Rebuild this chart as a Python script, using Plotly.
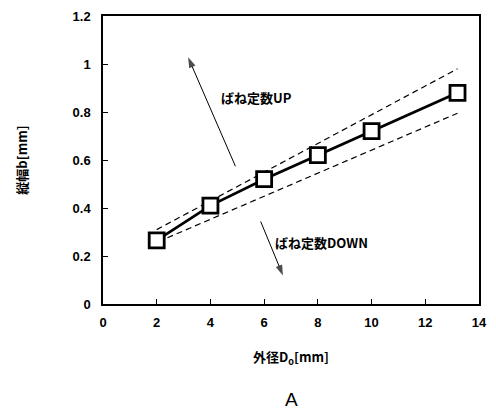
import plotly.graph_objects as go

# Measured outer diameter vs. width
outer_diameter = [2, 4, 6, 8, 10, 13.2]
width_b = [0.265, 0.41, 0.52, 0.62, 0.72, 0.88]

# Dashed guide lines (upper / lower bounds)
upper_x = [2.0, 13.2]
upper_y = [0.31, 0.98]
lower_x = [2.4, 13.2]
lower_y = [0.276, 0.795]

# Direction arrows: tail point then tip point
arrow_up_x = [4.93, 3.17]
arrow_up_y = [0.574, 1.028]
arrow_down_x = [5.87, 6.70]
arrow_down_y = [0.344, 0.119]

label_up = "ばね定数UP"
label_down = "ばね定数DOWN"
x_ticks = [0, 2, 4, 6, 8, 10, 12, 14]
y_ticks = [0, 0.2, 0.4, 0.6, 0.8, 1, 1.2]

jp_font = "Noto Sans CJK JP"
num_font = "Liberation Sans, Arial"

fig = go.Figure()

for xs, ys in ((upper_x, upper_y), (lower_x, lower_y)):
    fig.add_trace(go.Scatter(
        x=xs, y=ys, mode="lines",
        line=dict(color="black", width=1.2, dash="6px,4px"),
        showlegend=False, hoverinfo="skip"))

fig.add_trace(go.Scatter(
    x=outer_diameter, y=width_b, mode="lines+markers",
    line=dict(color="black", width=2.8),
    marker=dict(symbol="square", size=15, color="white",
                line=dict(color="black", width=2.8)),
    showlegend=False))

# Arrows: a thin line with an arrow-head marker oriented along the segment
for xs, ys in ((arrow_up_x, arrow_up_y), (arrow_down_x, arrow_down_y)):
    fig.add_trace(go.Scatter(
        x=xs, y=ys, mode="lines+markers",
        line=dict(color="black", width=1),
        marker=dict(symbol=["circle", "arrow"], size=[0, 11],
                    angleref="previous", color="black",
                    standoff=[0, 0], line=dict(width=0)),
        showlegend=False, hoverinfo="skip"))

fig.add_annotation(x=4.31, y=0.86, text=label_up, showarrow=False,
                   xanchor="left", yanchor="middle",
                   font=dict(family=jp_font, size=13, color="black",
                             weight="bold"))
fig.add_annotation(x=6.33, y=0.255, text=label_down, showarrow=False,
                   xanchor="left", yanchor="middle",
                   font=dict(family=jp_font, size=13, color="black",
                             weight="bold"))

fig.add_annotation(x=0.5, y=-0.33, xref="paper", yref="paper", text="A",
                   showarrow=False, yanchor="middle",
                   font=dict(family=num_font, size=19, color="black"))

fig.update_xaxes(
    range=[0, 14], tickvals=x_ticks, ticks="inside", ticklen=5,
    tickwidth=1, tickcolor="black", showline=True, linecolor="black",
    linewidth=1.5, mirror=True, showgrid=False, zeroline=False,
    ticklabelstandoff=6,
    tickfont=dict(family=num_font, size=13, color="black", weight="bold"),
    title=dict(text="外径D<sub>o</sub>[mm]", standoff=24,
               font=dict(family=jp_font, size=13, color="black",
                         weight="bold")))
fig.update_yaxes(
    range=[0, 1.2], tickvals=y_ticks, ticks="inside", ticklen=5,
    tickwidth=1, tickcolor="black", showline=True, linecolor="black",
    linewidth=1.5, mirror=True, showgrid=False, zeroline=False,
    ticklabelstandoff=8,
    tickfont=dict(family=num_font, size=13, color="black", weight="bold"),
    title=dict(text="縦幅b[mm]", standoff=42,
               font=dict(family=jp_font, size=13, color="black",
                         weight="bold")))

fig.update_layout(
    width=496, height=416,
    margin=dict(l=103, r=9, t=11, b=112),
    paper_bgcolor="white", plot_bgcolor="white")

fig.write_html("out.html")
